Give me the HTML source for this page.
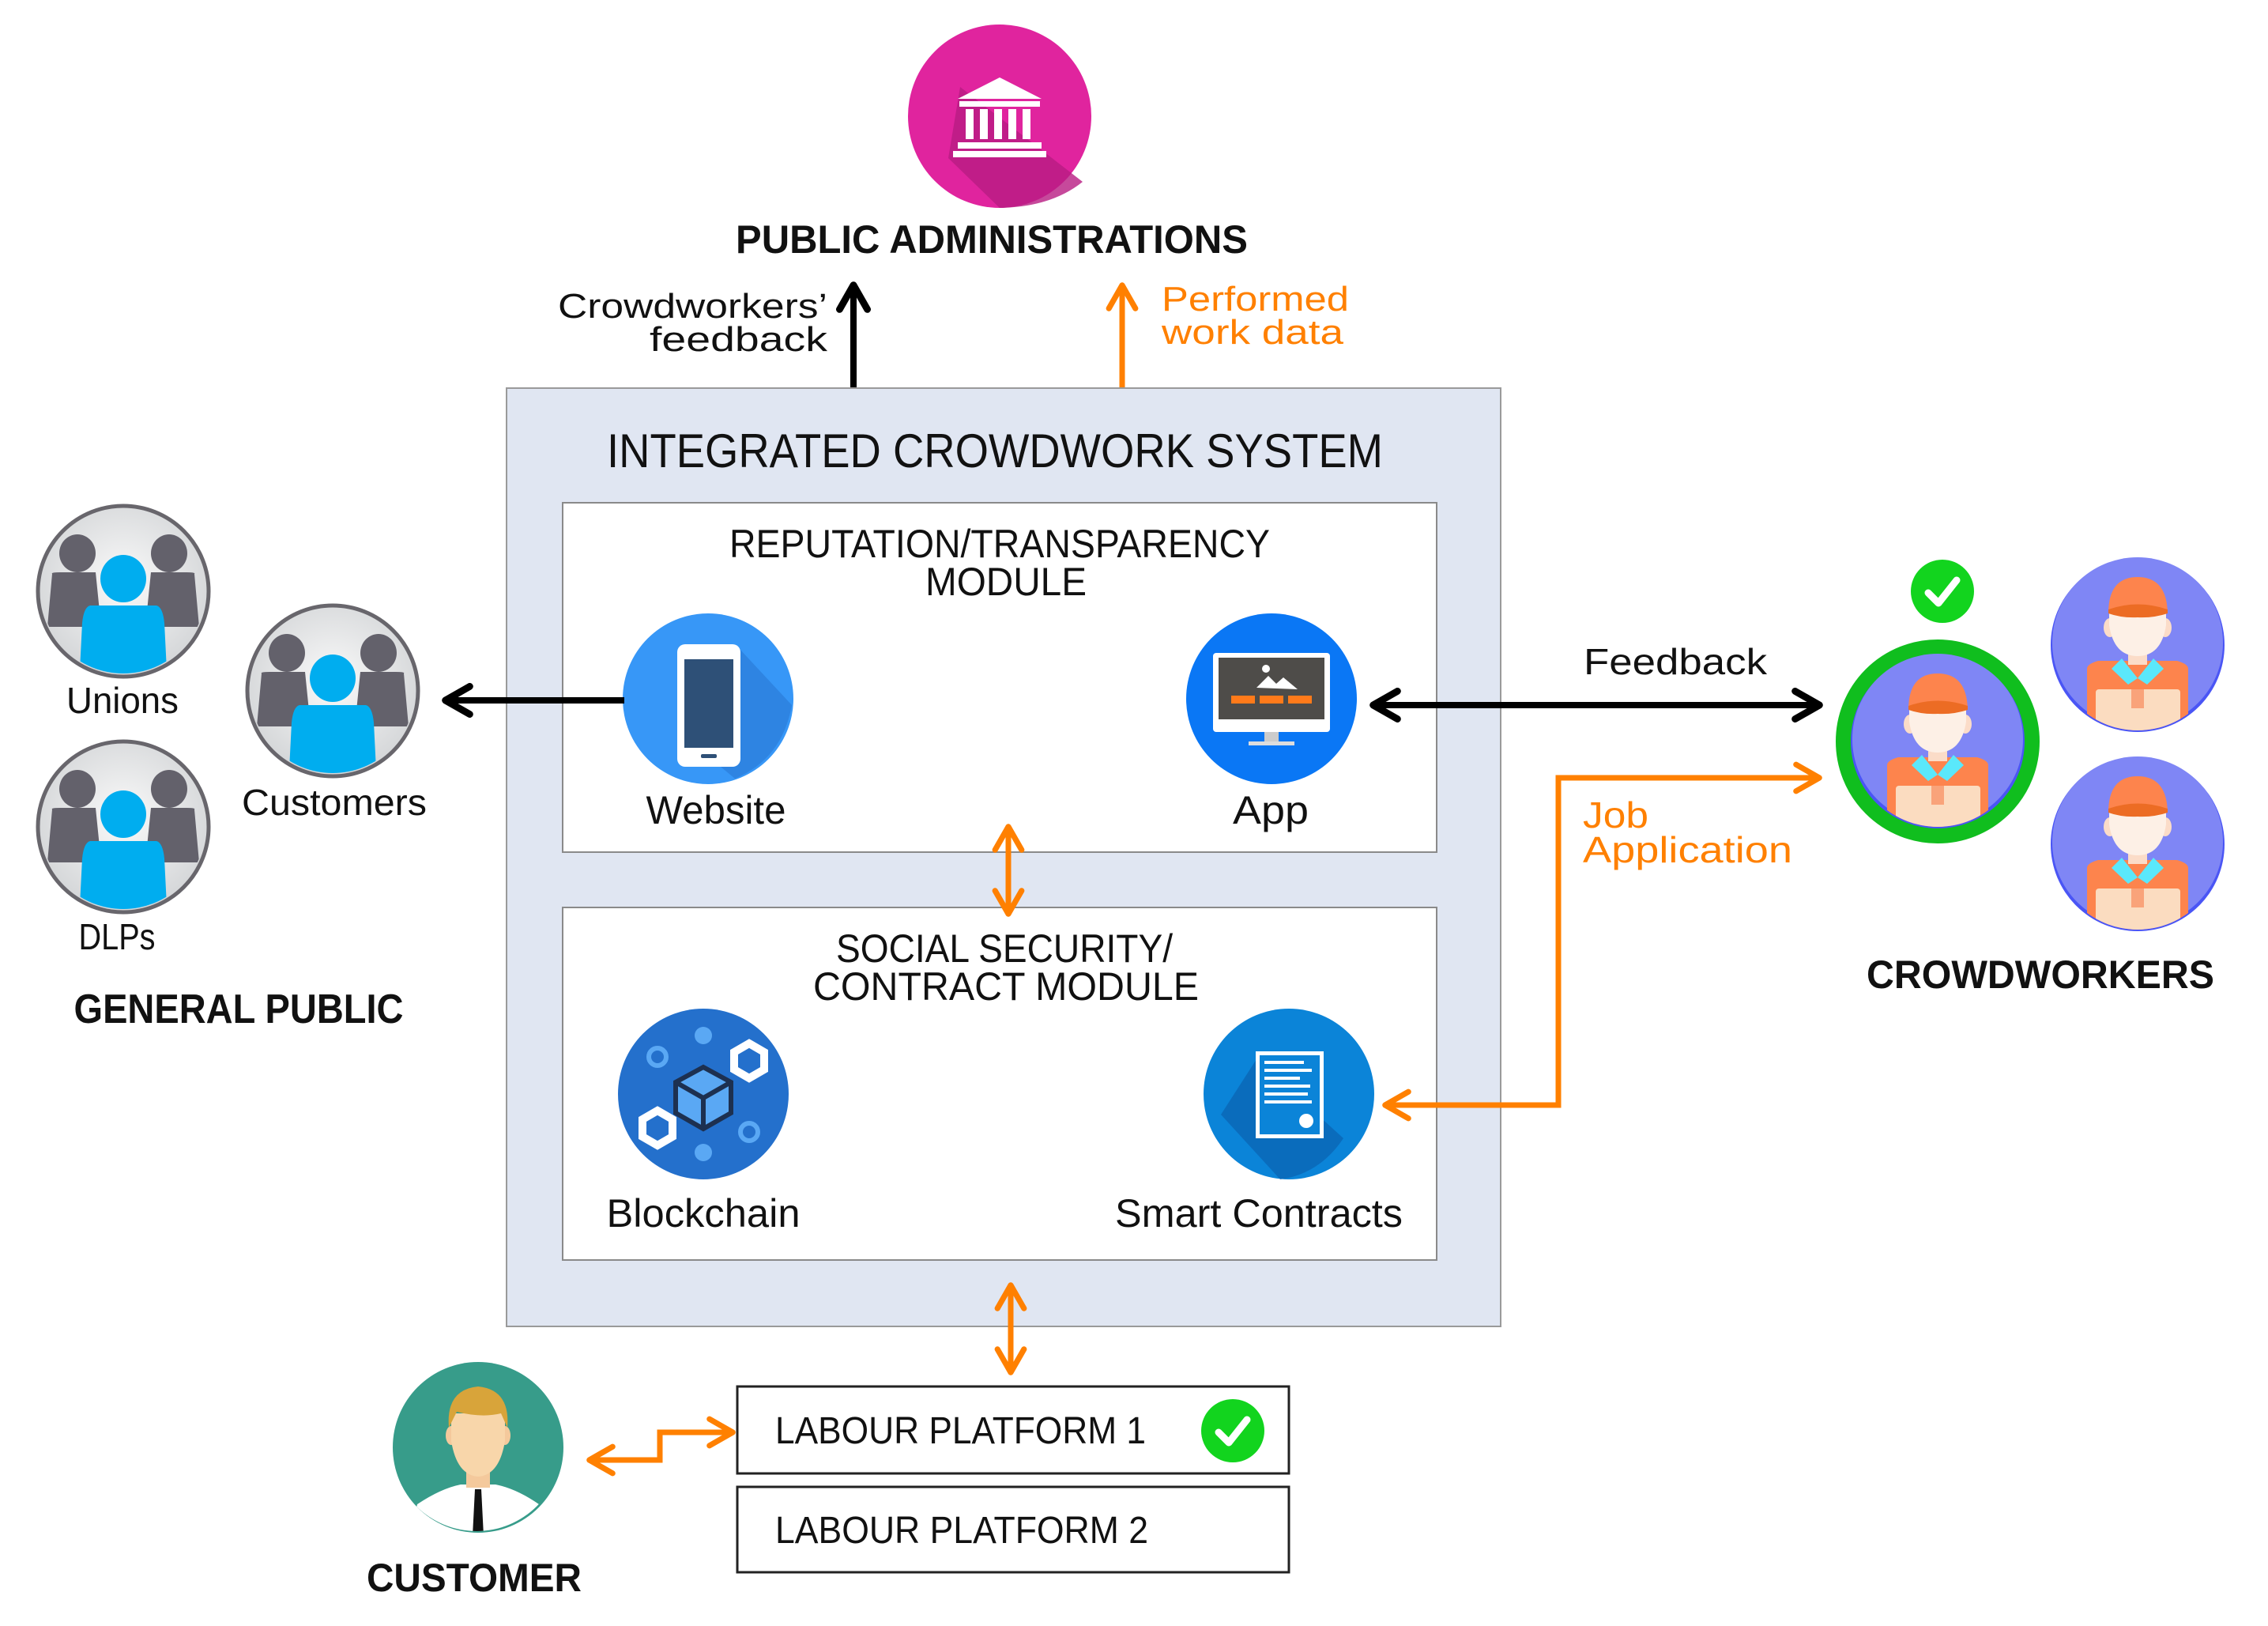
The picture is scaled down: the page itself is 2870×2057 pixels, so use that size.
<!DOCTYPE html>
<html><head><meta charset="utf-8"><style>
html,body{margin:0;padding:0;background:#fff;}
svg{display:block;}
text{font-family:"Liberation Sans",sans-serif;fill:#111;}
.b{font-weight:bold;}
.o{fill:#ff8000;}
</style></head><body>
<svg width="2870" height="2057" viewBox="0 0 2870 2057" xmlns="http://www.w3.org/2000/svg">
<defs>
 <radialGradient id="gg" cx="50%" cy="45%" r="55%"><stop offset="0" stop-color="#fafafa"/><stop offset="1" stop-color="#d4d6d8"/></radialGradient>
 <clipPath id="c110"><circle r="108"/></clipPath>
 <clipPath id="c105"><circle r="104"/></clipPath>
 <g id="grp">
  <circle r="108" fill="url(#gg)" stroke="#68666c" stroke-width="5"/>
  <g clip-path="url(#c105)">
   <ellipse cx="-58" cy="-48" rx="23" ry="24" fill="#63616b"/>
   <ellipse cx="58" cy="-48" rx="23" ry="24" fill="#63616b"/>
   <path d="M-90,-22 Q-92,-24 -80,-24 L-35,-24 L-28,45 L-96,45 Z" fill="#63616b"/>
   <path d="M90,-22 Q92,-24 80,-24 L35,-24 L28,45 L96,45 Z" fill="#63616b"/>
   <ellipse cx="0" cy="-16" rx="29" ry="30" fill="#00adef"/>
   <path d="M-42,18 L42,18 Q50,20 52,40 L56,120 L-56,120 L-52,40 Q-50,20 -42,18 Z" fill="#00adef"/>
  </g>
 </g>
 <g id="wrk">
  <circle r="110" fill="#4a55f5"/>
  <circle r="108" cy="-3" fill="#7f86f5"/>
  <g clip-path="url(#c110)">
   <path d="M-64,30 Q-64,24 -50,20 L50,20 Q64,24 64,30 L64,120 L-64,120 Z" fill="#fd844d"/>
   <path d="M-20,17 L0,42 L20,17 L33,30 L12,50 L0,42 L-12,50 L-33,30 Z" fill="#5ae8fb"/>
   <rect x="-12" y="5" width="24" height="20" fill="#fbdcc8"/>
   <ellipse cx="-35" cy="-22" rx="8" ry="12" fill="#fbdcc8"/>
   <ellipse cx="35" cy="-22" rx="8" ry="12" fill="#fbdcc8"/>
   <path d="M-36,-40 L-36,-25 Q-30,14 0,14 Q30,14 36,-25 L36,-40 Z" fill="#fdf0e6"/>
   <path d="M-37,-40 Q-37,-86 0,-86 Q37,-86 38,-40 Q20,-48 0,-46 Q-20,-48 -37,-40 Z" fill="#fd844d"/>
   <path d="M-37,-45 Q0,-58 38,-45 L38,-40 Q20,-34 0,-35 Q-20,-34 -37,-40 Z" fill="#ec6c24"/>
   <rect x="-53" y="56" width="107" height="60" rx="4" fill="#fbdcc0"/>
   <rect x="-8" y="56" width="16" height="24" fill="#f9a37a"/>
  </g>
 </g>
 <g id="chk">
  <circle r="40" fill="#12d41e"/>
  <path d="M-18,2 L-5,15 L18,-14" fill="none" stroke="#fff" stroke-width="9" stroke-linecap="round" stroke-linejoin="round"/>
 </g>
 <marker id="ab" viewBox="0 0 10 10" refX="7" refY="5" markerWidth="5.5" markerHeight="5.5" orient="auto-start-reverse"><path d="M1,1 L8,5 L1,9" fill="none" stroke="#000" stroke-width="2" stroke-linecap="round" stroke-linejoin="round"/></marker>
 <marker id="ao" viewBox="0 0 10 10" refX="7" refY="5" markerWidth="6" markerHeight="6" orient="auto-start-reverse"><path d="M1,1 L8,5 L1,9" fill="none" stroke="#ff8000" stroke-width="1.7" stroke-linecap="round" stroke-linejoin="round"/></marker>
</defs>

<circle cx="1265" cy="147" r="116" fill="#e0249e"/>
<path d="M1215,110 L1370,230 Q1330,262 1265,263 L1200,200 Z" fill="#b81c82" opacity="0.8"/>
<g fill="#fff">
 <path d="M1212,125 L1265,98 L1318,125 Z"/>
 <rect x="1214" y="128" width="102" height="7"/>
 <rect x="1222" y="138" width="10" height="38"/><rect x="1240" y="138" width="10" height="38"/><rect x="1258" y="138" width="10" height="38"/><rect x="1276" y="138" width="10" height="38"/><rect x="1294" y="138" width="10" height="38"/>
 <rect x="1212" y="180" width="106" height="8"/><rect x="1206" y="191" width="118" height="8"/>
</g>
<text x="1255" y="320" font-size="50" class="b" text-anchor="middle" textLength="648" lengthAdjust="spacingAndGlyphs">PUBLIC ADMINISTRATIONS</text>

<line x1="1080" y1="493" x2="1080" y2="365" stroke="#000" stroke-width="8" marker-end="url(#ab)"/>
<text x="1047" y="402" font-size="44" text-anchor="end" textLength="341" lengthAdjust="spacingAndGlyphs">Crowdworkers’</text>
<text x="1047" y="444" font-size="44" text-anchor="end" textLength="225" lengthAdjust="spacingAndGlyphs">feedback</text>
<line x1="1420" y1="493" x2="1420" y2="365" stroke="#ff8000" stroke-width="7" marker-end="url(#ao)"/>
<text x="1470" y="393" font-size="44" class="o" textLength="237" lengthAdjust="spacingAndGlyphs">Performed</text>
<text x="1470" y="435" font-size="44" class="o" textLength="230" lengthAdjust="spacingAndGlyphs">work data</text>

<rect x="641" y="491" width="1258" height="1187" fill="#e0e6f2" stroke="#9a9a9a" stroke-width="2"/>
<text x="1259" y="591" font-size="60" text-anchor="middle" textLength="982" lengthAdjust="spacingAndGlyphs">INTEGRATED CROWDWORK SYSTEM</text>
<rect x="712" y="636" width="1106" height="442" fill="#fff" stroke="#8a8a8a" stroke-width="2"/>
<text x="1265" y="705" font-size="50" text-anchor="middle" textLength="684" lengthAdjust="spacingAndGlyphs">REPUTATION/TRANSPARENCY</text>
<text x="1273" y="753" font-size="50" text-anchor="middle" textLength="204" lengthAdjust="spacingAndGlyphs">MODULE</text>
<rect x="712" y="1148" width="1106" height="446" fill="#fff" stroke="#8a8a8a" stroke-width="2"/>
<text x="1271" y="1217" font-size="50" text-anchor="middle" textLength="426" lengthAdjust="spacingAndGlyphs">SOCIAL SECURITY/</text>
<text x="1273" y="1265" font-size="50" text-anchor="middle" textLength="488" lengthAdjust="spacingAndGlyphs">CONTRACT MODULE</text>

<circle cx="896" cy="884" r="108" fill="#3797f7"/>
<path d="M935,820 L1002,892 Q990,960 930,985 L870,935 Z" fill="#2c80dc" opacity="0.8"/>
<rect x="857" y="815" width="80" height="155" rx="10" fill="#fff"/>
<rect x="866" y="834" width="62" height="112" fill="#2e5077"/>
<rect x="887" y="954" width="20" height="5" rx="2" fill="#2e5077"/>
<text x="906" y="1042" font-size="50" text-anchor="middle" textLength="177" lengthAdjust="spacingAndGlyphs">Website</text>

<circle cx="1609" cy="884" r="108" fill="#0a77f5"/>
<rect x="1535" y="826" width="148" height="100" rx="4" fill="#fff"/>
<rect x="1542" y="832" width="134" height="78" fill="#4e4c49"/>
<path d="M1590,870 L1605,855 L1615,865 L1624,857 L1642,872 Z" fill="#fff"/>
<circle cx="1602" cy="846" r="5" fill="#fff"/>
<rect x="1558" y="880" width="30" height="10" fill="#ff7a1a"/><rect x="1594" y="880" width="30" height="10" fill="#ff7a1a"/><rect x="1630" y="880" width="30" height="10" fill="#ff7a1a"/>
<rect x="1600" y="926" width="18" height="12" fill="#ccc"/><rect x="1580" y="938" width="58" height="5" fill="#ddd"/>
<text x="1608" y="1042" font-size="50" text-anchor="middle" textLength="96" lengthAdjust="spacingAndGlyphs">App</text>

<circle cx="890" cy="1384" r="108" fill="#2470cc"/>
<g fill="#5aa8f4"><circle cx="890" cy="1310" r="11"/><circle cx="890" cy="1458" r="11"/></g>
<circle cx="832" cy="1337" r="11" fill="none" stroke="#5aa8f4" stroke-width="6"/>
<circle cx="948" cy="1432" r="11" fill="none" stroke="#5aa8f4" stroke-width="6"/>
<path d="M948,1320 L967,1331 L967,1353 L948,1364 L929,1353 L929,1331 Z" fill="#2470cc" stroke="#fff" stroke-width="10"/>
<path d="M832,1405 L851,1416 L851,1438 L832,1449 L813,1438 L813,1416 Z" fill="#2470cc" stroke="#fff" stroke-width="10"/>
<path d="M890,1350 L925,1369 L925,1408 L890,1428 L855,1408 L855,1369 Z" fill="#5aa8f4" stroke="#1d3050" stroke-width="6"/>
<path d="M855,1369 L890,1389 L925,1369 M890,1389 L890,1428" fill="none" stroke="#1d3050" stroke-width="6"/>
<text x="890" y="1552" font-size="50" text-anchor="middle" textLength="245" lengthAdjust="spacingAndGlyphs">Blockchain</text>

<circle cx="1631" cy="1384" r="108" fill="#0b84d8"/>
<path d="M1590,1340 L1700,1440 Q1670,1485 1620,1492 L1545,1410 Z" fill="#0a62b0" opacity="0.7"/>
<rect x="1589" y="1330" width="86" height="110" fill="#fff"/>
<rect x="1594" y="1335" width="76" height="100" fill="#0b84d8"/>
<g fill="#fff"><rect x="1600" y="1342" width="50" height="4"/><rect x="1600" y="1352" width="60" height="4"/><rect x="1600" y="1362" width="45" height="4"/><rect x="1600" y="1372" width="58" height="4"/><rect x="1600" y="1382" width="55" height="4"/><rect x="1600" y="1392" width="60" height="4"/></g>
<circle cx="1653" cy="1418" r="9" fill="#fff"/>
<text x="1593" y="1552" font-size="50" text-anchor="middle" textLength="364" lengthAdjust="spacingAndGlyphs">Smart Contracts</text>

<line x1="1276" y1="1050" x2="1276" y2="1152" stroke="#ff8000" stroke-width="7" marker-start="url(#ao)" marker-end="url(#ao)"/>
<line x1="1279" y1="1630" x2="1279" y2="1732" stroke="#ff8000" stroke-width="7" marker-start="url(#ao)" marker-end="url(#ao)"/>

<line x1="790" y1="886" x2="568" y2="886" stroke="#000" stroke-width="8" marker-end="url(#ab)"/>

<use href="#grp" x="156" y="748"/>
<use href="#grp" x="421" y="874"/>
<use href="#grp" x="156" y="1046"/>
<text x="155" y="902" font-size="46" text-anchor="middle" textLength="142" lengthAdjust="spacingAndGlyphs">Unions</text>
<text x="423" y="1031" font-size="46" text-anchor="middle" textLength="234" lengthAdjust="spacingAndGlyphs">Customers</text>
<text x="148" y="1201" font-size="46" text-anchor="middle" textLength="97" lengthAdjust="spacingAndGlyphs">DLPs</text>
<text x="302" y="1294" font-size="52" class="b" text-anchor="middle" textLength="417" lengthAdjust="spacingAndGlyphs">GENERAL PUBLIC</text>

<line x1="1742" y1="892" x2="2298" y2="892" stroke="#000" stroke-width="8" marker-start="url(#ab)" marker-end="url(#ab)"/>
<text x="2120" y="853" font-size="46" text-anchor="middle" textLength="232" lengthAdjust="spacingAndGlyphs">Feedback</text>

<polyline points="2298,984 1972,984 1972,1398 1757,1398" fill="none" stroke="#ff8000" stroke-width="7" marker-start="url(#ao)" marker-end="url(#ao)"/>
<text x="2003" y="1047" font-size="46" class="o" textLength="83" lengthAdjust="spacingAndGlyphs">Job</text>
<text x="2003" y="1091" font-size="46" class="o" textLength="265" lengthAdjust="spacingAndGlyphs">Application</text>

<circle cx="2452" cy="938" r="119" fill="none" stroke="#10be1e" stroke-width="20"/>
<use href="#wrk" x="2452" y="938"/>
<use href="#chk" x="2458" y="748"/>
<use href="#wrk" x="2705" y="816"/>
<use href="#wrk" x="2705" y="1068"/>
<text x="2582" y="1250" font-size="50" class="b" text-anchor="middle" textLength="440" lengthAdjust="spacingAndGlyphs">CROWDWORKERS</text>

<rect x="933" y="1754" width="698" height="110" fill="#fff" stroke="#222" stroke-width="3"/>
<text x="981" y="1826" font-size="48" textLength="469" lengthAdjust="spacingAndGlyphs">LABOUR PLATFORM 1</text>
<use href="#chk" x="1560" y="1810"/>
<rect x="933" y="1881" width="698" height="108" fill="#fff" stroke="#222" stroke-width="3"/>
<text x="981" y="1952" font-size="48" textLength="472" lengthAdjust="spacingAndGlyphs">LABOUR PLATFORM 2</text>

<circle cx="605" cy="1831" r="108" fill="#379c8a"/>
<clipPath id="cc"><circle cx="605" cy="1831" r="108"/></clipPath>
<g clip-path="url(#cc)" transform="translate(-2,-2)">
 <path d="M520,1945 L530,1905 Q560,1885 585,1880 L629,1880 Q655,1885 684,1905 L694,1945 Z" fill="#fff"/>
 <rect x="592" y="1862" width="30" height="22" fill="#f4c99c"/>
 <ellipse cx="573" cy="1818" rx="7" ry="12" fill="#f4c99c"/><ellipse cx="641" cy="1818" rx="7" ry="12" fill="#f4c99c"/>
 <path d="M573,1790 L573,1825 Q580,1868 607,1870 Q634,1868 641,1825 L641,1790 Z" fill="#f8d6aa"/>
 <path d="M570,1808 Q566,1760 607,1756 Q648,1760 644,1808 L636,1790 Q612,1796 580,1788 Z" fill="#d8a43a"/>
 <path d="M603,1886 L611,1886 L614,1945 L600,1945 Z" fill="#111"/>
</g>
<text x="600" y="2013" font-size="50" class="b" text-anchor="middle" textLength="272" lengthAdjust="spacingAndGlyphs">CUSTOMER</text>
<polyline points="750,1847 835,1847 835,1812 923,1812" fill="none" stroke="#ff8000" stroke-width="7" marker-start="url(#ao)" marker-end="url(#ao)"/>
</svg>
</body></html>
